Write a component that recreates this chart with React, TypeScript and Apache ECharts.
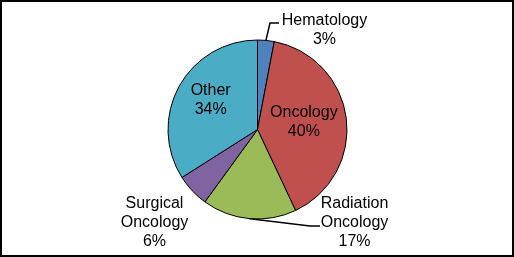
import React, { useEffect, useRef } from 'react';
import * as echarts from 'echarts';

const categories = ['Hematology', 'Oncology', 'Radiation Oncology', 'Surgical Oncology', 'Other'];
const values = [3, 40, 17, 6, 34];
const colors = ['#4F81BD', '#C0504D', '#9BBB59', '#8064A2', '#4BACC6'];
const insideLabels = [false, true, false, false, true];
const showLeader = [true, false, true, false, false];

export default function App() {
  const ref = useRef<HTMLDivElement>(null);
  useEffect(() => {
    const chart = echarts.init(ref.current!, null, { renderer: 'svg' });
    const cx = 257.5, cy = 129.5, R = 89.5;
    const outside: Record<number, any> = {
      0: { x: 324.5, y: 29, line: [[270, 23], [279, 23]] },
      2: { x: 354.5, y: 221.5, line: [[310, 226], [320, 226]] },
      3: { x: 154.5, y: 221.5 },
    };
    const inside: Record<number, any> = { 1: { dx: -1, dy: -3 }, 4: { dx: -5, dy: -7 } };
    chart.setOption({
      animation: false,
      graphic: [
        {
          type: 'rect',
          silent: true,
          shape: { x: 1, y: 1, width: 512, height: 255 },
          style: { fill: 'none', stroke: '#000', lineWidth: 2 },
        },
      ],
      series: [
        {
          type: 'pie',
          center: [cx, cy],
          radius: R,
          startAngle: 90,
          clockwise: true,
          avoidLabelOverlap: false,
          emphasis: { disabled: true },
          itemStyle: { borderColor: '#000', borderWidth: 1 },
          label: {
            fontFamily: 'Liberation Sans, Arial, sans-serif',
            fontSize: 16,
            lineHeight: 19,
            color: '#000',
            formatter: (p: any) => `${String(p.name).replace(' ', '\n')}\n${p.value}%`,
          },
          labelLine: { lineStyle: { color: '#000', width: 1.5 } },
          labelLayout: (p: any) => {
            const i = p.dataIndex;
            if (inside[i]) return { dx: inside[i].dx, dy: inside[i].dy };
            const o = outside[i];
            if (!o) return {};
            const res: any = { x: o.x, y: o.y, align: 'center', verticalAlign: 'middle' };
            if (o.line && p.labelLinePoints) {
              res.labelLinePoints = [p.labelLinePoints[0], ...o.line];
            }
            return res;
          },
          data: categories.map((name, i) => ({
            name,
            value: values[i],
            itemStyle: { color: colors[i] },
            label: insideLabels[i] ? { position: 'inside' } : { position: 'outside' },
            labelLine: { show: showLeader[i] },
          })),
        },
      ],
    });
    return () => chart.dispose();
  }, []);
  return <div ref={ref} style={{ position: 'fixed', left: 0, top: 0, width: 514, height: 257 }} />;
}
